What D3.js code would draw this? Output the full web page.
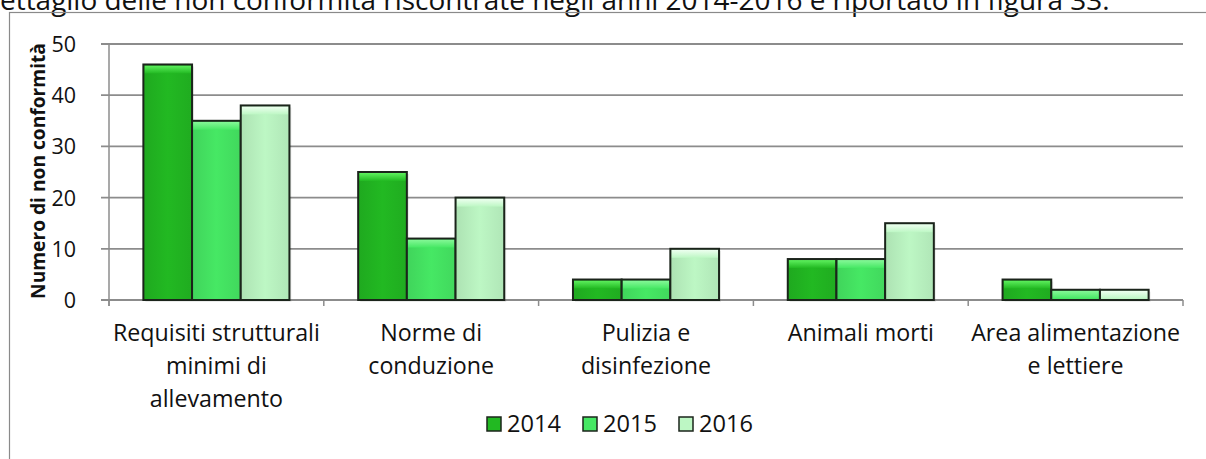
<!DOCTYPE html>
<html>
<head>
<meta charset="utf-8">
<script src="https://cdn.jsdelivr.net/npm/d3@7"></script>
<style>
  body { margin: 0; background: #fff; }
  svg { display: block; font-family: "Open Sans", Lato, sans-serif; }
</style>
</head>
<body>
<div id="chart"></div>
<script>
var categories = [
  ["Requisiti strutturali", "minimi di", "allevamento"],
  ["Norme di", "conduzione"],
  ["Pulizia e", "disinfezione"],
  ["Animali morti"],
  ["Area alimentazione", "e lettiere"]
];
var years = ["2014", "2015", "2016"];
var v2014 = [46, 25, 4, 8, 4];
var v2015 = [35, 12, 4, 8, 2];
var v2016 = [38, 20, 10, 15, 2];
var yTicks = [0, 10, 20, 30, 40, 50];
var caption = "ettaglio delle non conformità riscontrate negli anni 2014-2016 è riportato in figura 33.";
var yTitle = "Numero di non conformità";

var series = [v2014, v2015, v2016];
var colors = ["#22b922", "#46e864", "#bdf7c4"];
var tops = ["#5ef05e", "#86f898", "#eefff0"];

var width = 1206, height = 459;
var margin = {left: 109, right: 1183, top: 44, bottom: 300};

var svg = d3.select("#chart").append("svg")
  .attr("width", width)
  .attr("height", height);

// size a font so a sample string gets a given width
function fitSize(sample, target, weight) {
  var t = svg.append("text").attr("font-size", 20)
    .attr("font-weight", weight || "normal").text(sample);
  var w = t.node().getComputedTextLength();
  t.remove();
  return 20 * target / w;
}
var labelSize = fitSize("Requisiti strutturali", 207);
var legendSize = fitSize("2014", 54);
var titleSize = fitSize(yTitle, 256, "bold");

// caption line above the chart (clipped at the top)
svg.append("text")
  .attr("x", 0).attr("y", 10)
  .attr("font-size", fitSize(caption, 1110))
  .attr("fill", "#111")
  .text(caption);

// chart frame
svg.append("rect")
  .attr("x", 9.5).attr("y", 12.5)
  .attr("width", 1300).attr("height", 600)
  .attr("fill", "none")
  .attr("stroke", "#8a8a8a")
  .attr("stroke-width", 1.2);

var x0 = d3.scaleBand()
  .domain(d3.range(categories.length))
  .range([margin.left, margin.right])
  .paddingInner(0.32).paddingOuter(0.16);
var x1 = d3.scaleBand()
  .domain(d3.range(years.length))
  .range([0, x0.bandwidth()]);
var y = d3.scaleLinear().domain([0, 50]).range([margin.bottom, margin.top]);

// gridlines
svg.append("g")
  .selectAll("line")
  .data(yTicks)
  .enter().append("line")
  .attr("x1", margin.left - 8).attr("x2", margin.right)
  .attr("y1", function(d) { return y(d); })
  .attr("y2", function(d) { return y(d); })
  .attr("stroke", "#8c8c8c")
  .attr("stroke-width", 1.8);

// y axis line
svg.append("line")
  .attr("x1", margin.left).attr("x2", margin.left)
  .attr("y1", margin.top).attr("y2", margin.bottom + 6)
  .attr("stroke", "#8c8c8c").attr("stroke-width", 1.5);

// x axis category separator ticks
var step = (margin.right - margin.left) / categories.length;
svg.append("g")
  .selectAll("line")
  .data(d3.range(categories.length + 1))
  .enter().append("line")
  .attr("x1", function(i) { return margin.left + i * step; })
  .attr("x2", function(i) { return margin.left + i * step; })
  .attr("y1", margin.bottom).attr("y2", margin.bottom + 6)
  .attr("stroke", "#8c8c8c").attr("stroke-width", 1.5);

// y tick labels
svg.append("g")
  .selectAll("text")
  .data(yTicks)
  .enter().append("text")
  .attr("x", 76)
  .attr("y", function(d) { return y(d) + 8; })
  .attr("text-anchor", "end")
  .attr("font-size", 21.5)
  .attr("fill", "#111")
  .text(function(d) { return d; });

// y title
svg.append("text")
  .attr("transform", "translate(45,171) rotate(-90)")
  .attr("text-anchor", "middle")
  .attr("font-size", titleSize)
  .attr("font-weight", "bold")
  .attr("fill", "#111")
  .text(yTitle);

// gradients
var defs = svg.append("defs");
colors.forEach(function(c, i) {
  var g = defs.append("linearGradient")
    .attr("id", "hl" + i)
    .attr("x1", 0).attr("y1", 0).attr("x2", 0).attr("y2", 1);
  g.append("stop").attr("offset", "0%").attr("stop-color", tops[i]);
  g.append("stop").attr("offset", "100%").attr("stop-color", c);
  var s = defs.append("linearGradient")
    .attr("id", "sd" + i)
    .attr("x1", 0).attr("y1", 0).attr("x2", 1).attr("y2", 0);
  s.append("stop").attr("offset", "0%").attr("stop-color", d3.color(c).darker(0.25));
  s.append("stop").attr("offset", "50%").attr("stop-color", c);
  s.append("stop").attr("offset", "100%").attr("stop-color", d3.color(c).darker(0.2));
});

// bars
var groups = svg.append("g")
  .selectAll("g")
  .data(categories)
  .enter().append("g")
  .attr("transform", function(d, i) { return "translate(" + x0(i) + ",0)"; });

groups.each(function(d, ci) {
  var g = d3.select(this);
  series.forEach(function(s, si) {
    var bx = x1(si), bw = x1.bandwidth();
    var by = y(s[ci]), bh = y(0) - y(s[ci]);
    // soft shadow
    g.append("rect")
      .attr("x", bx + 2).attr("y", by + 2)
      .attr("width", bw).attr("height", bh)
      .attr("fill", "#000").attr("opacity", 0.08);
    g.append("rect")
      .attr("x", bx).attr("y", by)
      .attr("width", bw).attr("height", bh)
      .attr("fill", "url(#sd" + si + ")");
    g.append("rect")
      .attr("x", bx + 1).attr("y", by + 1)
      .attr("width", bw - 2).attr("height", Math.min(8, bh - 1))
      .attr("fill", "url(#hl" + si + ")");
    g.append("rect")
      .attr("x", bx).attr("y", by)
      .attr("width", bw).attr("height", bh)
      .attr("fill", "none")
      .attr("stroke", "#1b241b")
      .attr("stroke-width", 2);
  });
});

// category labels
groups.append("text")
  .attr("text-anchor", "middle")
  .attr("font-size", labelSize)
  .attr("fill", "#111")
  .selectAll("tspan")
  .data(function(d) { return d; })
  .enter().append("tspan")
  .attr("x", x0.bandwidth() / 2)
  .attr("y", function(d, i) { return 341 + i * 33; })
  .text(function(d) { return d; });

// legend
var legendX = [487, 583, 679];
var legend = svg.append("g")
  .selectAll("g")
  .data(years)
  .enter().append("g")
  .attr("transform", function(d, i) { return "translate(" + legendX[i] + ",417)"; });
legend.append("rect")
  .attr("width", 14).attr("height", 14)
  .attr("fill", function(d, i) { return colors[i]; })
  .attr("stroke", "#1b241b").attr("stroke-width", 1.5);
legend.append("text")
  .attr("x", 20).attr("y", 15)
  .attr("font-size", legendSize)
  .attr("fill", "#111")
  .text(function(d) { return d; });
</script>
</body>
</html>
